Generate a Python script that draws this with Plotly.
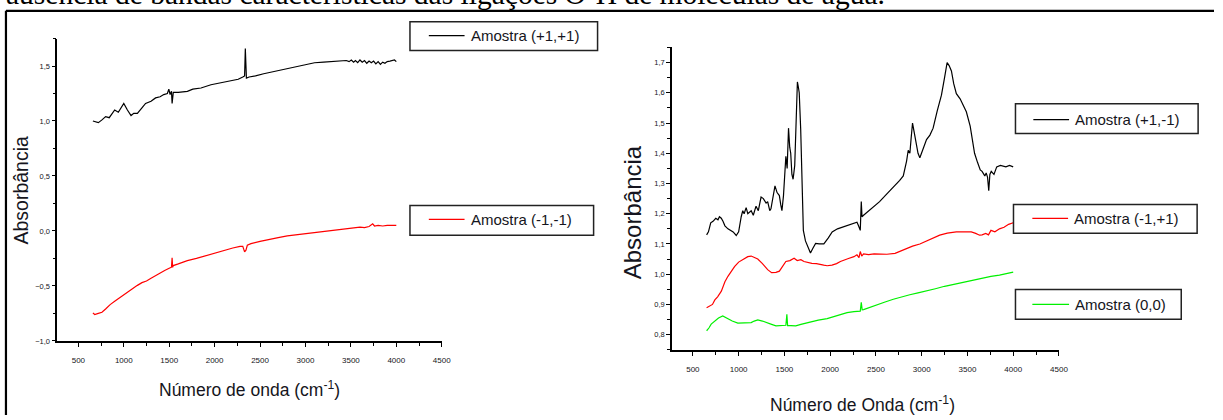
import plotly.graph_objects as go

# ---------------- data ----------------
# Left panel: Amostra (+1,+1) and Amostra (-1,-1)
left_pp_x = [660, 700, 720, 760, 800, 840, 870, 900, 940, 970, 1000, 1040, 1080, 1110, 1150, 1200,
             1240, 1300, 1350, 1400, 1440, 1480, 1496, 1510, 1525, 1532, 1545, 1600, 1700, 1760,
             1850, 1960, 2080, 2180, 2260, 2310, 2330, 2338, 2343, 2350, 2380, 2450, 2540, 2650,
             2780, 2900, 3000, 3100, 3200, 3300, 3400, 3450, 3480, 3505, 3530, 3550, 3575, 3600,
             3625, 3650, 3675, 3700, 3725, 3750, 3775, 3800, 3825, 3850, 3875, 3900, 3930, 3960,
             3980, 4000]
left_pp_y = [1.00, 0.99, 0.985, 1.01, 1.04, 1.03, 1.07, 1.10, 1.08, 1.12, 1.16, 1.10, 1.05, 1.07, 1.07, 1.12,
             1.16, 1.18, 1.21, 1.22, 1.24, 1.25, 1.29, 1.24, 1.27, 1.16, 1.26, 1.26, 1.27, 1.29,
             1.30, 1.33, 1.35, 1.37, 1.38, 1.40, 1.41, 1.66, 1.42, 1.39, 1.40, 1.41, 1.43, 1.45,
             1.47, 1.49, 1.51, 1.53, 1.535, 1.54, 1.545, 1.55, 1.54, 1.555, 1.535, 1.55, 1.53, 1.555,
             1.535, 1.55, 1.525, 1.545, 1.53, 1.545, 1.52, 1.54, 1.515, 1.535, 1.525, 1.54, 1.545,
             1.55, 1.555, 1.54]

left_mm_x = [660, 680, 720, 760, 800, 850, 900, 950, 1000, 1050, 1100, 1150, 1200, 1250, 1300, 1350,
             1400, 1450, 1500, 1525, 1532, 1538, 1545, 1600, 1700, 1800, 1900, 2000, 2100, 2200,
             2280, 2310, 2330, 2345, 2360, 2400, 2500, 2600, 2700, 2800, 2900, 3000, 3100, 3200,
             3300, 3400, 3500, 3600, 3650, 3700, 3740, 3760, 3800, 3850, 3900, 4000]
left_mm_y = [-0.745, -0.76, -0.75, -0.74, -0.71, -0.67, -0.64, -0.61, -0.585, -0.55, -0.52, -0.495, -0.47,
             -0.455, -0.43, -0.405, -0.385, -0.36, -0.34, -0.33, -0.245, -0.33, -0.315, -0.30, -0.27,
             -0.25, -0.225, -0.205, -0.18, -0.155, -0.14, -0.14, -0.19, -0.175, -0.13, -0.115, -0.095,
             -0.075, -0.06, -0.045, -0.035, -0.02, -0.01, 0.0, 0.01, 0.02, 0.03, 0.035, 0.03, 0.04,
             0.065, 0.045, 0.05, 0.045, 0.05, 0.05]

# Right panel: Amostra (+1,-1), Amostra (-1,+1), Amostra (0,0)
right_pm_x = [650, 670, 695, 720, 750, 774, 790, 810, 829, 850, 883, 910, 940, 974, 1000, 1028, 1045,
              1060, 1082, 1100, 1137, 1160, 1190, 1215, 1245, 1270, 1300, 1317, 1340, 1353, 1375, 1397,
              1420, 1445, 1460, 1473, 1490, 1505, 1516, 1530, 1545, 1558, 1569, 1582, 1595, 1613, 1630,
              1642, 1652, 1662, 1678, 1696, 1707, 1730, 1767, 1785, 1810, 1841, 1880, 1931, 1980, 2022,
              2080, 2130, 2185, 2240, 2293, 2310, 2329, 2340, 2348, 2365, 2420, 2471, 2540, 2617, 2700,
              2760, 2799, 2820, 2835, 2853, 2871, 2885, 2900, 2918, 2936, 2960, 2980, 3010, 3053, 3090,
              3125, 3170, 3216, 3250, 3278, 3300, 3325, 3350, 3379, 3420, 3488, 3530, 3560, 3578, 3610,
              3640, 3660, 3690, 3705, 3720, 3733, 3745, 3760, 3790, 3820, 3860, 3920, 3960, 4000]
right_pm_y = [1.13, 1.14, 1.17, 1.175, 1.185, 1.18, 1.19, 1.185, 1.175, 1.16, 1.15, 1.145, 1.14, 1.128, 1.14,
              1.19, 1.21, 1.20, 1.22, 1.20, 1.21, 1.195, 1.225, 1.21, 1.255, 1.25, 1.235, 1.24, 1.21, 1.216,
              1.25, 1.292, 1.27, 1.26, 1.23, 1.21, 1.26, 1.32, 1.39, 1.35, 1.483, 1.42, 1.40, 1.33, 1.314,
              1.36, 1.50, 1.636, 1.62, 1.60, 1.48, 1.309, 1.145, 1.11, 1.08, 1.07, 1.085, 1.102, 1.10,
              1.10, 1.12, 1.14, 1.15, 1.155, 1.162, 1.168, 1.172, 1.16, 1.145, 1.24, 1.19, 1.195, 1.21,
              1.222, 1.24, 1.265, 1.29, 1.31, 1.325, 1.35, 1.374, 1.41, 1.40, 1.45, 1.50, 1.47, 1.44,
              1.40, 1.385, 1.41, 1.445, 1.46, 1.483, 1.54, 1.592, 1.65, 1.70, 1.69, 1.672, 1.63, 1.597,
              1.58, 1.537, 1.49, 1.44, 1.40, 1.37, 1.345, 1.34, 1.325, 1.335, 1.32, 1.276, 1.33, 1.34,
              1.33, 1.355, 1.36, 1.355, 1.36, 1.355]

right_mp_x = [650, 680, 714, 740, 770, 811, 850, 883, 920, 955, 1000, 1064, 1100, 1137, 1175, 1209, 1260,
              1317, 1360, 1408, 1445, 1480, 1516, 1560, 1606, 1640, 1680, 1714, 1760, 1800, 1850, 1895,
              1930, 1967, 2020, 2070, 2112, 2200, 2260, 2293, 2315, 2329, 2345, 2365, 2420, 2480, 2545,
              2620, 2709, 2770, 2835, 2900, 2980, 3050, 3120, 3197, 3280, 3379, 3460, 3542, 3590, 3633,
              3660, 3700, 3730, 3757, 3800, 3850, 3900, 3950, 4000]
right_mp_y = [0.889, 0.895, 0.90, 0.915, 0.925, 0.944, 0.975, 0.993, 1.01, 1.025, 1.04, 1.053, 1.058, 1.06,
              1.056, 1.05, 1.035, 1.015, 1.005, 1.006, 1.01, 1.025, 1.042, 1.045, 1.053, 1.045, 1.048,
              1.042, 1.038, 1.036, 1.035, 1.031, 1.030, 1.028, 1.03, 1.035, 1.042, 1.052, 1.058, 1.064,
              1.055, 1.075, 1.06, 1.067, 1.065, 1.067, 1.067, 1.066, 1.069, 1.077, 1.085, 1.093, 1.10,
              1.11, 1.12, 1.129, 1.136, 1.14, 1.14, 1.14, 1.135, 1.129, 1.13, 1.135, 1.13, 1.145, 1.14,
              1.15, 1.155, 1.165, 1.17]

right_00_x = [650, 675, 700, 740, 780, 826, 850, 883, 930, 991, 1050, 1100, 1137, 1170, 1209, 1260, 1317,
              1360, 1408, 1460, 1516, 1527, 1535, 1570, 1624, 1680, 1751, 1800, 1870, 1967, 2050, 2120,
              2185, 2260, 2329, 2340, 2350, 2365, 2450, 2530, 2600, 2690, 2780, 2870, 2960, 3053, 3150,
              3250, 3343, 3450, 3530, 3596, 3680, 3757, 3850, 3930, 4000]
right_00_y = [0.813, 0.822, 0.835, 0.845, 0.855, 0.862, 0.858, 0.855, 0.845, 0.838, 0.838, 0.84, 0.84,
              0.845, 0.849, 0.845, 0.84, 0.834, 0.829, 0.83, 0.831, 0.867, 0.83, 0.83, 0.829, 0.834, 0.84,
              0.843, 0.848, 0.853, 0.86, 0.866, 0.873, 0.876, 0.878, 0.907, 0.882, 0.883, 0.893, 0.902,
              0.908, 0.917, 0.925, 0.932, 0.938, 0.944, 0.952, 0.96, 0.966, 0.975, 0.978, 0.982, 0.988,
              0.993, 0.997, 1.003, 1.007]

left_names = ["Amostra (+1,+1)", "Amostra (-1,-1)"]
right_names = ["Amostra (+1,-1)", "Amostra (-1,+1)", "Amostra (0,0)"]
x_tick_vals = [500, 1000, 1500, 2000, 2500, 3000, 3500, 4000, 4500]

caption = "ausência de bandas características das ligações O-H de moléculas de água."
x_title_left = "Número de onda (cm<sup>-1</sup>)"
x_title_right = "Número de Onda (cm<sup>-1</sup>)"
y_title = "Absorbância"

# ---------------- layout helpers ----------------
W, H = 1223, 420
def px(x):
    return x / W
def py(y):
    return 1 - y / H

BLACK, RED, GREEN = "#000000", "#ff0000", "#00f000"
SANS = "Liberation Sans, Arial, sans-serif"
TXT = "#151520"

fig = go.Figure()
series = [
    (left_pp_x, left_pp_y, BLACK, "x", "y", left_names[0]),
    (left_mm_x, left_mm_y, RED, "x", "y", left_names[1]),
    (right_pm_x, right_pm_y, BLACK, "x2", "y2", right_names[0]),
    (right_mp_x, right_mp_y, RED, "x2", "y2", right_names[1]),
    (right_00_x, right_00_y, GREEN, "x2", "y2", right_names[2]),
]
for xs, ys, col, xa, ya, nm in series:
    fig.add_trace(go.Scatter(x=xs, y=ys, mode="lines", name=nm, showlegend=False,
                             line=dict(color=col, width=1.2), xaxis=xa, yaxis=ya))

axis_common = dict(showline=True, linecolor="#000", linewidth=1.5, showgrid=False, zeroline=False,
                   ticks="outside", ticklen=4, tickwidth=1, tickcolor="#000")
xtickfont = dict(family=SANS, size=8, color=TXT)
ytickfont = dict(family=SANS, size=7.5, color=TXT)

fig.update_layout(
    width=W, height=H, margin=dict(l=0, r=0, t=0, b=0),
    paper_bgcolor="white", plot_bgcolor="white", separators=", ",
    xaxis=dict(domain=[px(57.7), px(445)], range=[268, 4500], anchor="y",
               tickvals=x_tick_vals, tickfont=xtickfont, ticklabelstandoff=7,
               minor=dict(dtick=250, tick0=0, ticks="outside", ticklen=3, tickcolor="#000"),
               **axis_common),
    yaxis=dict(domain=[py(345), py(39)], range=[-1, 1.75], anchor="x", dtick=0.5, tick0=0, tickformat=".1f",
               tickfont=ytickfont,
               minor=dict(dtick=0.25, tick0=0, ticks="outside", ticklen=3, tickcolor="#000"),
               **axis_common),
    xaxis2=dict(domain=[px(677), px(1066.8)], range=[272, 4500], anchor="y2",
                tickvals=x_tick_vals, tickfont=xtickfont, ticklabelstandoff=7,
                minor=dict(dtick=250, tick0=0, ticks="outside", ticklen=3, tickcolor="#000"),
                **axis_common),
    yaxis2=dict(domain=[py(354), py(48)], range=[0.75, 1.75], anchor="x2", dtick=0.1, tick0=0, tickformat=".1f",
                tickfont=ytickfont,
                minor=dict(dtick=0.05, tick0=0, ticks="outside", ticklen=3, tickcolor="#000"),
                **axis_common),
)

annotations = []
shapes = []

# caption at the very top (cut off by the page edge)
annotations.append(dict(text=caption, x=px(4), y=py(12), xref="paper", yref="paper",
                        xanchor="left", yanchor="bottom", showarrow=False,
                        font=dict(family="Liberation Serif, Times New Roman, serif", size=29.5, color="#000")))
# outer frame (top and left edges of the table cell)
shapes.append(dict(type="line", xref="paper", yref="paper", x0=px(6), x1=px(1223), y0=py(11), y1=py(11),
                   line=dict(color="#000", width=2.2), layer="above"))
shapes.append(dict(type="line", xref="paper", yref="paper", x0=px(6), x1=px(6), y0=py(11), y1=py(420),
                   line=dict(color="#000", width=2.2), layer="above"))

# axis titles
titles = [
    dict(text=y_title, x=px(21), y=py(192), textangle=-90, font=dict(family=SANS, size=19.5, color=TXT)),
    dict(text=y_title, x=px(637.5), y=py(215), textangle=-90, font=dict(family=SANS, size=24, color=TXT)),
    dict(text=x_title_left, x=px(251), y=py(394), font=dict(family=SANS, size=17.5, color=TXT)),
    dict(text=x_title_right, x=px(869), y=py(409), font=dict(family=SANS, size=17.5, color=TXT)),
]
for a in titles:
    a.update(xref="paper", yref="paper", xanchor="center", yanchor="middle", showarrow=False)
annotations += titles

# legend boxes: (x0, x1, y0, y1, line x0, line x1, line y, colour, label)
legend_boxes = [
    (413, 602, 22, 51, 432, 468, 36, BLACK, left_names[0]),
    (413, 598, 208, 238, 432, 468, 222, RED, left_names[1]),
    (1023, 1207, 105, 135, 1041, 1077, 121, BLACK, right_names[0]),
    (1021, 1206, 207, 236, 1040, 1076, 221, RED, right_names[1]),
    (1023, 1190, 293, 323, 1040, 1077, 308, GREEN, right_names[2]),
]
for bx0, bx1, by0, by1, lx0, lx1, ly, col, label in legend_boxes:
    shapes.append(dict(type="rect", xref="paper", yref="paper", x0=px(bx0), x1=px(bx1), y0=py(by1), y1=py(by0),
                       line=dict(color="#222", width=1.5), fillcolor="white", layer="above"))
    shapes.append(dict(type="line", xref="paper", yref="paper", x0=px(lx0), x1=px(lx1), y0=py(ly), y1=py(ly),
                       line=dict(color=col, width=1.3), layer="above"))
    annotations.append(dict(text=label, x=px(lx1 + 4), y=py(ly), xref="paper", yref="paper",
                            xanchor="left", yanchor="middle", showarrow=False,
                            font=dict(family=SANS, size=15, color=TXT)))

fig.update_layout(annotations=annotations, shapes=shapes)
fig.write_html("out.html")
